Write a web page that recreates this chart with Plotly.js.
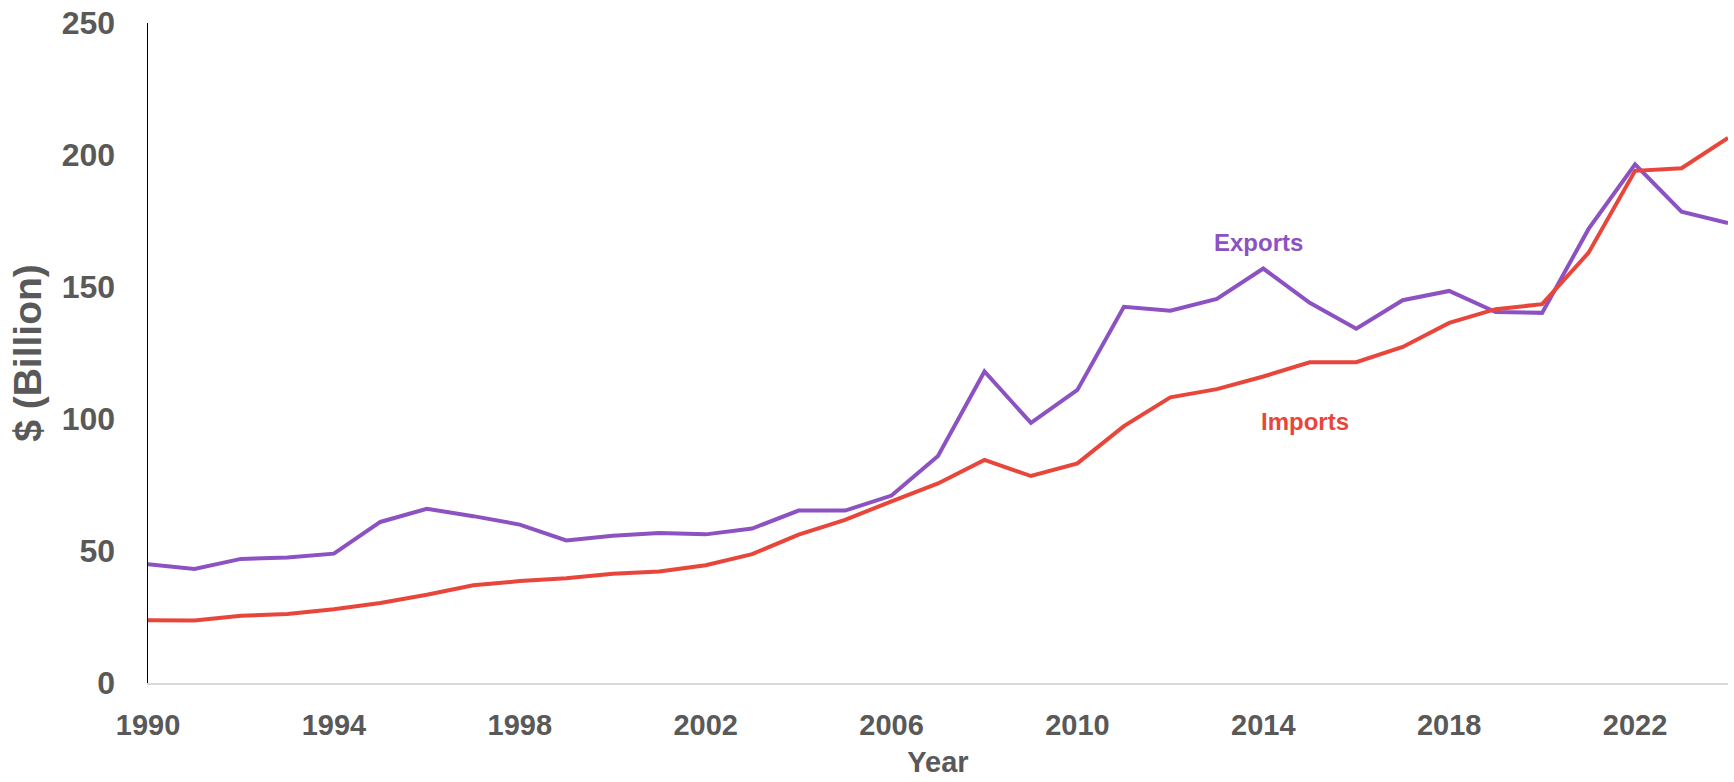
<!DOCTYPE html>
<html>
<head>
<meta charset="utf-8">
<script src="https://cdn.plot.ly/plotly-3.0.1.min.js"></script>
<style>html,body{margin:0;padding:0;background:#fff;}#chart{width:1734px;height:782px;}</style>
</head>
<body>
<div id="chart"></div>
<script>
const years = [1990,1991,1992,1993,1994,1995,1996,1997,1998,1999,2000,2001,2002,2003,2004,2005,2006,2007,2008,2009,2010,2011,2012,2013,2014,2015,2016,2017,2018,2019,2020,2021,2022,2023,2024];
const exportsVals = [45,43.2,47,47.5,49,61,66,63.2,60,54,55.8,56.8,56.3,58.5,65.3,65.3,71,86,118,98.5,111,142.5,141,145.5,157,144,134.2,145,148.5,140.5,140.2,172,196.5,178.5,174.2];
const importsVals = [23.8,23.7,25.5,26.1,27.9,30.3,33.4,37,38.6,39.7,41.4,42.2,44.6,48.8,56.2,61.8,68.8,75.6,84.5,78.4,83.2,97.3,108.2,111.3,116.1,121.5,121.5,127.3,136.4,141.6,143.5,163,194,195,206.5];
const xTicks = [1990,1994,1998,2002,2006,2010,2014,2018,2022];
const yTicks = [0,50,100,150,200,250];

const purple = '#8d52c2';
const red = '#e8463b';
const gray = '#595959';
const fam = 'Liberation Sans, Arial, sans-serif';

const traces = [
  {x: years, y: exportsVals, type: 'scatter', mode: 'lines', name: 'Exports',
   line: {color: purple, width: 4}},
  {x: years, y: importsVals, type: 'scatter', mode: 'lines', name: 'Imports',
   line: {color: red, width: 4}}
];

const layout = {
  width: 1734, height: 782,
  margin: {l: 148, r: 6, t: 23, b: 99},
  paper_bgcolor: '#fff', plot_bgcolor: '#fff',
  showlegend: false,
  font: {family: fam, color: gray},
  xaxis: {
    range: [1990, 2024], tickvals: xTicks, ticktext: xTicks.map(String),
    showgrid: false, zeroline: false, showline: true, linecolor: '#d9d9d9', linewidth: 2,
    ticks: '', ticklabelstandoff: 15,
    tickfont: {size: 29, color: gray, family: fam, weight: 'bold'},
    title: {text: '<b>Year</b>', font: {size: 29, color: gray, family: fam}, standoff: 12}
  },
  yaxis: {
    range: [0, 250], tickvals: yTicks, ticktext: yTicks.map(String),
    showgrid: false, zeroline: false, showline: true, linecolor: '#000', linewidth: 1.5,
    ticks: '', ticklabelstandoff: 25,
    tickfont: {size: 32, color: gray, family: fam, weight: 'bold'},
    title: {text: '<b>$ (Billion)</b>', font: {size: 39, color: gray, family: fam}, standoff: 8}
  },
  annotations: [
    {x: 2013.9, y: 166.7, xref: 'x', yref: 'y', text: '<b>Exports</b>', showarrow: false,
     font: {size: 24, color: purple, family: fam}},
    {x: 2014.9, y: 98.9, xref: 'x', yref: 'y', text: '<b>Imports</b>', showarrow: false,
     font: {size: 24, color: red, family: fam}}
  ]
};

Plotly.newPlot('chart', traces, layout, {displayModeBar: false, staticPlot: true});
</script>
</body>
</html>
